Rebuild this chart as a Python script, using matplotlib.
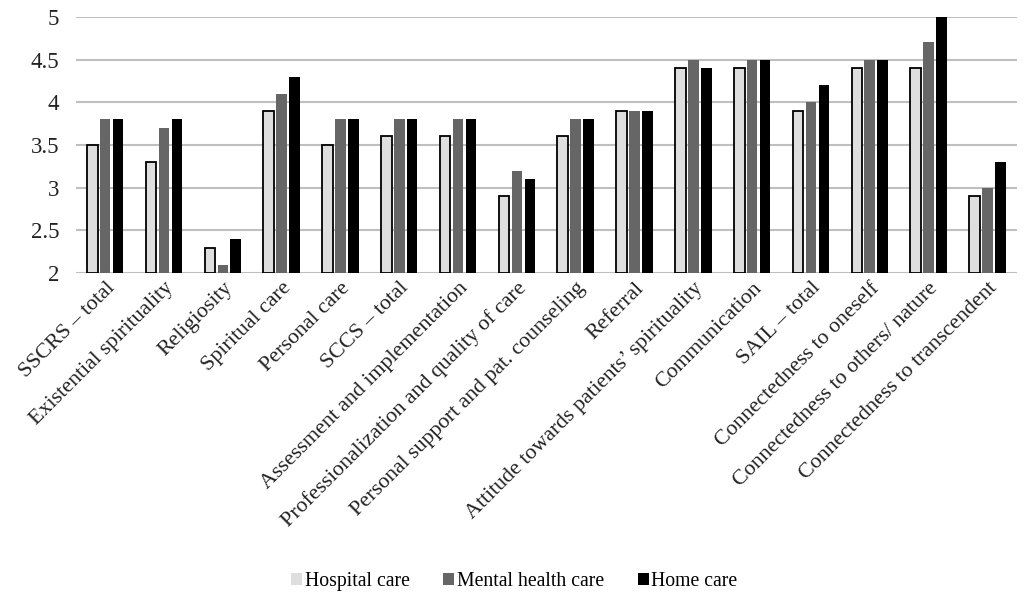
import matplotlib.pyplot as plt
import numpy as np

categories = [
    "SSCRS \u2013 total",
    "Existential spirituality",
    "Religiosity",
    "Spiritual care",
    "Personal care",
    "SCCS \u2013 total",
    "Assessment and implementation",
    "Professionalization and quality of care",
    "Personal support and pat. counseling",
    "Referral",
    "Attitude towards patients\u2019 spirituality",
    "Communication",
    "SAIL \u2013 total",
    "Connectedness to oneself",
    "Connectedness to others/ nature",
    "Connectedness to transcendent",
]
hospital = [3.5, 3.3, 2.3, 3.9, 3.5, 3.6, 3.6, 2.9, 3.6, 3.9, 4.4, 4.4, 3.9, 4.4, 4.4, 2.9]
mental = [3.8, 3.7, 2.1, 4.1, 3.8, 3.8, 3.8, 3.2, 3.8, 3.9, 4.5, 4.5, 4.0, 4.5, 4.7, 3.0]
home = [3.8, 3.8, 2.4, 4.3, 3.8, 3.8, 3.8, 3.1, 3.8, 3.9, 4.4, 4.5, 4.2, 4.5, 5.0, 3.3]
series_names = ["Hospital care", "Mental health care", "Home care"]
yticks = [2, 2.5, 3, 3.5, 4, 4.5, 5]
ytick_labels = ["2", "2.5", "3", "3.5", "4", "4.5", "5"]

plt.rcParams["font.family"] = ["Liberation Serif", "DejaVu Serif"]

fig = plt.figure(figsize=(10.24, 5.99), dpi=100)
ax = fig.add_axes([0.074, 0.544, 0.919, 0.428])

x = np.arange(len(categories))
w = 0.18
step = 0.22
ax.bar(x - step, np.array(hospital) - 2, w, bottom=2, color="#dedede",
       edgecolor="black", linewidth=1.3, label=series_names[0], zorder=3)
ax.bar(x, np.array(mental) - 2, w, bottom=2, color="#666666",
       label=series_names[1], zorder=3)
ax.bar(x + step, np.array(home) - 2, w, bottom=2, color="black",
       label=series_names[2], zorder=3)

ax.set_ylim(2, 5)
ax.set_xlim(-0.5, len(categories) - 0.5)
ax.set_yticks(yticks, labels=ytick_labels)
ax.yaxis.grid(True, color="#bfbfbf", linewidth=1.5, zorder=0)
ax.set_axisbelow(True)
for s in ax.spines.values():
    s.set_visible(False)
ax.tick_params(axis="y", length=0, labelsize=16.5, colors="#222222", pad=12)
ax.tick_params(axis="x", length=0, labelsize=15.8, colors="#222222", pad=4)
ax.set_xticks(x, labels=categories)
plt.setp(ax.get_xticklabels(), rotation=45, ha="right", rotation_mode="anchor")

leg = ax.legend(loc="lower center", bbox_to_anchor=(0.466, -1.31), ncol=3,
                frameon=False, fontsize=14.2, handlelength=0.55, handleheight=0.55,
                handletextpad=0.15, columnspacing=1.7)
# legend swatch for hospital care has no border in the reference
leg.legend_handles[0].set_edgecolor("none")

fig.savefig("out.png", dpi=100)
